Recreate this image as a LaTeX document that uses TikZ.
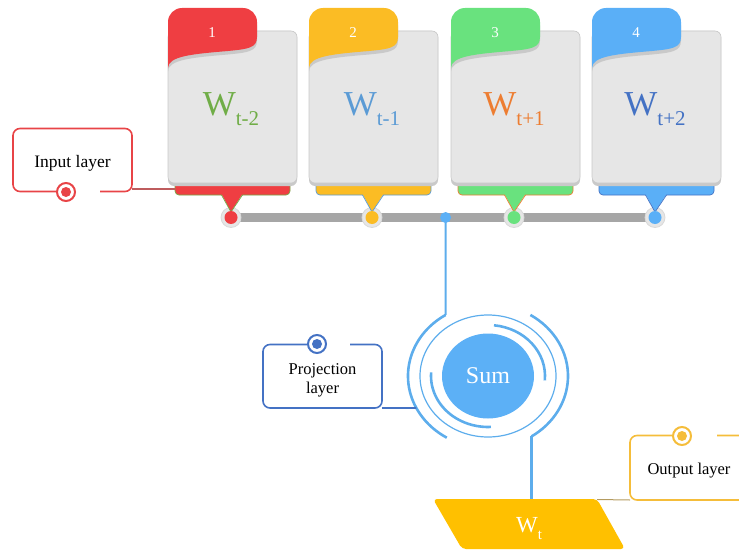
\documentclass[tikz,border=0pt]{standalone}
\usepackage{fontspec}
\setmainfont{Liberation Serif}
\usetikzlibrary{shapes.geometric,calc}

\definecolor{tabred}{HTML}{EF3E42}
\definecolor{tabyellow}{HTML}{FBBC24}
\definecolor{tabgreen}{HTML}{69E27E}
\definecolor{tabblue}{HTML}{5AAFF7}
\definecolor{wgreen}{HTML}{70AD47}
\definecolor{wblue}{HTML}{5B9BD5}
\definecolor{worange}{HTML}{ED7D31}
\definecolor{wdark}{HTML}{4472C4}
\definecolor{cardgray}{HTML}{E6E6E6}
\definecolor{cardedge}{HTML}{C9C9C9}
\definecolor{bargray}{HTML}{A6A6A6}
\definecolor{ringblue}{HTML}{5DADEC}
\definecolor{sumblue}{HTML}{5CB0F6}
\definecolor{wtgold}{HTML}{FFC000}
\definecolor{outgold}{HTML}{F5BD3A}
\definecolor{inred}{HTML}{E84447}
\definecolor{projblue}{HTML}{4472C4}

\tikzset{
  boxedge/.style={line width=1.6pt, rounded corners=7pt},
  ringarc/.style={ringblue, line width=2.6pt},
  ringthin/.style={ringblue, line width=1.2pt},
  ringline/.style={ringblue, line width=2.2pt},
  label/.style={font=\fontsize{16.5}{19}\selectfont, align=center, inner sep=0pt},
}

% folder-like card: #1 left x, #2 tab colour, #3 text colour,
% #4 tab number, #5 subscript, #6 name
\newcommand{\tabshape}{%
  (0,68) -- (0,22) arc[start angle=180, end angle=270, radius=14]
  -- (75,8) arc[start angle=270, end angle=360, radius=14]
  -- (89,37) .. controls (89,48) and (80,49) .. (60,51)
  .. controls (25,54) and (0,56) .. (0,68) -- cycle}
\newcommand{\wcard}[6]{%
  \begin{scope}[shift={(#1,0)}]
    % bottom strip and pointer
    \filldraw[fill=#2, draw=#3, line width=0.7pt, rounded corners=4pt]
      (7,180) -- (7,195) -- (122,195) -- (122,180) -- cycle;
    \fill[#2] (53.5,194) -- (63,212) -- (74.5,194) -- cycle;
    \draw[#3, line width=0.7pt] (53.5,195) -- (63,212) -- (74.5,195);
    % card body with its shadow
    \fill[cardedge, rounded corners=6pt] (0,31) rectangle (129,186);
    \filldraw[fill=cardgray, draw=cardedge, line width=0.6pt, rounded corners=6pt]
      (0,31) rectangle (129,183);
    % coloured tab with its shadow
    \fill[cardedge, shift={(0,3.5)}] \tabshape;
    \fill[#2] \tabshape;
    \node[text=white, font=\fontsize{15}{15}\selectfont] at (44,33) {#4};
    \node[text=#3, anchor=base, inner sep=0pt] (#6) at (63,115)
      {\fontsize{35}{35}\selectfont W\raisebox{-10pt}{\fontsize{21}{21}\selectfont #5}};
    \coordinate (#6strip) at (7,189);
  \end{scope}}

\begin{document}
\begin{tikzpicture}[x=1pt, y=-1pt]
  \useasboundingbox (0,0) rectangle (739,551);
  \clip (0,0) rectangle (739,551);

  % pins on the input bar
  \coordinate (p1) at (231,217.5);
  \coordinate (p2) at (372,217.5);
  \coordinate (p3) at (514,217.5);
  \coordinate (p4) at (655,217.5);
  \coordinate (dot) at (445.6,217.5);

  \draw[bargray, line width=9pt] (p1) -- (p4);
  \foreach \p in {p1,p2,p3,p4}
    \filldraw[fill=cardgray, draw=cardedge!70!white, line width=0.8pt] (\p) circle[radius=10];

  \wcard{168}{tabred}{wgreen}{1}{t-2}{w1}
  \wcard{309}{tabyellow}{wblue}{2}{t-1}{w2}
  \wcard{451}{tabgreen}{worange}{3}{t+1}{w3}
  \wcard{592}{tabblue}{wdark}{4}{t+2}{w4}

  \fill[tabred] (p1) circle[radius=6.5];
  \fill[tabyellow] (p2) circle[radius=6.5];
  \fill[tabgreen] (p3) circle[radius=6.5];
  \fill[tabblue] (p4) circle[radius=6.5];

  % input layer
  \node[label, font=\fontsize{17.5}{20}\selectfont, minimum width=119pt, minimum height=63pt]
    (inbox) at (72.5,163.5) {Input layer};
  \draw[inred, boxedge] (57,191.5) -- (13,191.5) -- (13,128.5) -- (132,128.5)
    -- (132,191.5) -- (100,191.5);
  \filldraw[fill=white, draw=inred, line width=2pt] (66,192) circle[radius=9];
  \fill[inred] (66,192) circle[radius=5];
  \draw[inred!60!gray, line width=1.2pt] (132,189) -- (w1strip);

  % projection and sum
  \coordinate (C) at (488,376);
  \coordinate (ringtop) at ([shift={(-122:80 and 72)}]C);
  \coordinate (ringbot) at ([shift={(57:80 and 72)}]C);
  \coordinate (ringleft) at ([shift={(-206.4:80 and 72)}]C);

  \draw[ringline] (dot) -- (ringtop);
  \fill[sumblue] (dot) circle[radius=5.5];

  \draw[ringarc] (ringtop) arc[start angle=-122, end angle=-239, x radius=80, y radius=72];
  \draw[ringarc] ([shift={(-58:80 and 72)}]C) arc[start angle=-58, end angle=57, x radius=80, y radius=72];
  \draw[ringthin] (C) ellipse[x radius=68, y radius=61];
  \draw[ringarc] ([shift={(-176:57 and 51)}]C) arc[start angle=-176, end angle=-273, x radius=57, y radius=51];
  \draw[ringarc] ([shift={(-84:57 and 51)}]C) arc[start angle=-84, end angle=5, x radius=57, y radius=51];
  \node[ellipse, fill=sumblue, minimum width=92pt, minimum height=85pt, inner sep=0pt,
        text=white, font=\fontsize{24}{24}\selectfont] (sum) at (C) {\raisebox{-3pt}{Sum}};

  \node[label, minimum width=119pt, minimum height=63pt] (proj) at (322.5,380)
    {Projection\\layer};
  \draw[projblue, boxedge] (307,344.5) -- (263,344.5) -- (263,408) -- (382,408)
    -- (382,344.5) -- (350,344.5);
  \filldraw[fill=white, draw=projblue, line width=2pt] (317,344) circle[radius=9];
  \fill[projblue] (317,344) circle[radius=5];
  \draw[projblue, line width=1.8pt] (382,408) -- (ringleft);

  % output
  \fill[wtgold, rounded corners=4pt] (433,499) -- (597,499) -- (625,549) -- (462,549) -- cycle;
  \coordinate (wtne) at (597,499.5);
  \coordinate (wttop) at (531,499);
  \node[text=white, anchor=base, inner sep=0pt] (wt) at (529,532)
    {\fontsize{23}{23}\selectfont W\raisebox{-7pt}{\fontsize{15}{15}\selectfont t}};
  \draw[ringline] (ringbot) -- (ringbot |- wttop);

  \node[label, minimum width=118pt, minimum height=65pt] (outbox) at (689,471)
    {Output layer};
  \draw[outgold, boxedge] (672,435.5) -- (630,435.5) -- (630,500) -- (748,500)
    -- (748,435.5) -- (717,435.5);
  \filldraw[fill=white, draw=outgold, line width=2pt] (682,436) circle[radius=9];
  \fill[outgold] (682,436) circle[radius=5];
  \draw[gray!55!outgold, line width=1pt] (wtne) -- (630,500);
\end{tikzpicture}
\end{document}
